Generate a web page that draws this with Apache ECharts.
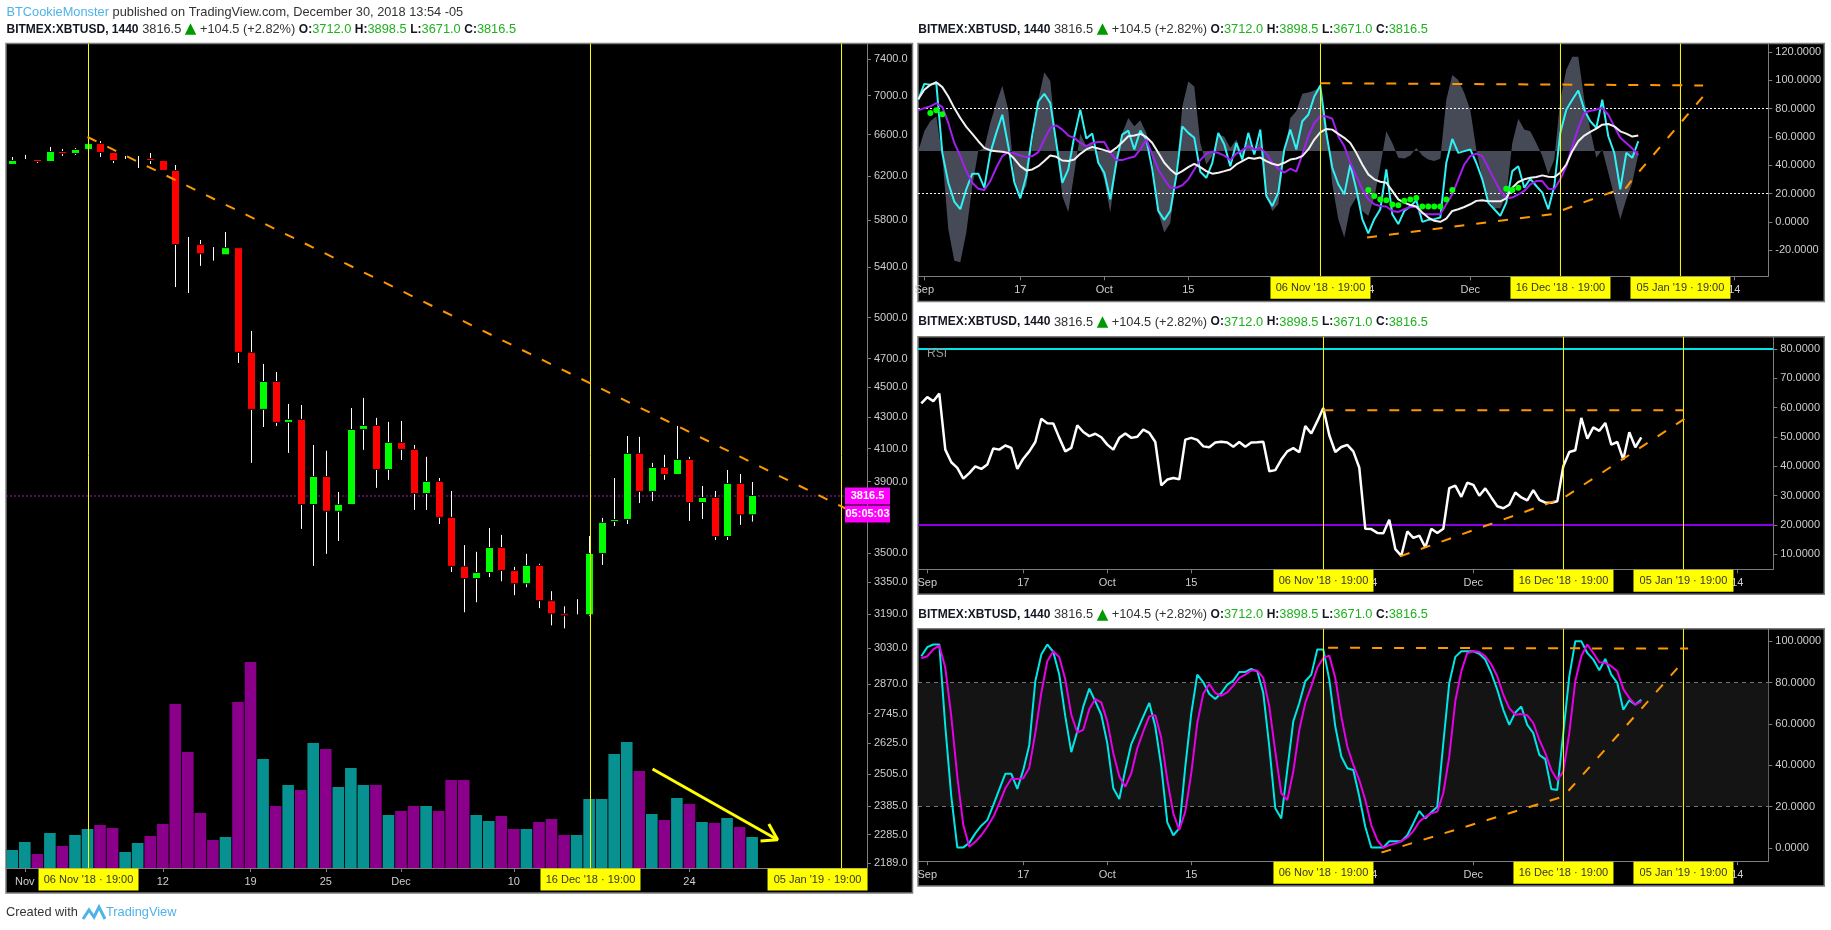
<!DOCTYPE html>
<html>
<head>
<meta charset="utf-8">
<script src="https://cdn.jsdelivr.net/npm/echarts@6/dist/echarts.min.js"></script>
<style>html,body{margin:0;padding:0;background:#fff}#c{width:1831px;height:930px}</style>
</head>
<body>
<div id="c"></div>
<script>
// ---- price panel data (index 0 = 31 Oct 2018) ----
const candleOpen = [6312,6360,6350,6340,6428,6418,6457,6505,6418,6360,6370,6360,6340,6245,5591,5582,5556,5504,5556,4741,
4355,4536,4270,4283,3770,3928,3732,3770,4225,4244,3976,4136,4093,3834,3899,3692,3428,3370,3401,3527,
3406,3344,3433,3254,3190,3190,3190,3501,3675,3686,4068,3846,3982,3946,4031,3782,3805,3592,3887,3712];
const candleClose = [6340,6360,6340,6428,6418,6447,6505,6428,6350,6360,6370,6350,6255,5591,5591,5513,5556,5556,4748,4355,
4536,4270,4283,3770,3928,3732,3765,4218,4244,3976,4136,4099,3834,3899,3698,3433,3370,3396,3527,3412,
3344,3433,3259,3195,3186,3190,3496,3664,3680,4068,3846,3982,3946,4031,3782,3805,3592,3887,3712,3816.5];
const candleLow = [6312,6360,6321,6340,6389,6399,6457,6379,6321,6360,6274,6312,6255,5238,5191,5409,5452,5504,4669,4013,
4237,4244,4074,3631,3433,3496,3565,3770,4093,3864,3911,4031,3737,3737,3658,3401,3200,3249,3375,3354,
3284,3324,3220,3137,3123,3190,3181,3438,3647,3658,3776,3787,3911,3946,3675,3686,3570,3570,3653,3671];
const candleHigh = [6379,6399,6350,6476,6457,6466,6575,6535,6418,6389,6389,6418,6340,6302,5651,5625,5565,5694,5556,4901,
4662,4606,4388,4381,4123,4087,3840,4361,4428,4296,4270,4276,4123,4050,3922,3846,3543,3507,3636,3598,
3428,3496,3444,3304,3229,3264,3592,3692,3922,4180,4174,4013,4062,4244,4050,3875,3846,3970,3946,3898.5];
const volume = [18,26,14,35,22,33,39,43,40,16,25,32,44,164,116,55,28,31,166,206,
109,62,83,78,125,119,81,100,83,83,53,57,62,62,57,88,88,53,47,52,
39,39,46,49,33,33,69,69,114,126,97,54,48,70,64,46,45,50,41,31];
const volumeRising = [1,1,0,1,0,1,1,0,0,1,1,0,0,0,0,0,0,1,0,0,
1,0,1,0,1,0,1,1,1,0,1,0,0,1,0,0,0,1,1,0,
0,1,0,0,0,1,1,1,1,1,0,1,0,1,0,1,0,1,0,1];
const priceTicks = [7400,7000,6600,6200,5800,5400,5000,4700,4500,4300,4100,3900,3500,3350,3190,3030,2870,2745,2625,2505,2385,2285,2189];
const lastPrice = 3816.5;
const priceTickDays = [1,12,19,25,31,40,54];
const priceTickLabels = ['Nov','12','19','25','Dec','10','24'];
const priceTrend = [[6,6575],[68.16,3686]];
const volumeArrow = [[51.06,99],[61.03,28.3]];
const volumeArrowHead = [[60.33,44],[61.03,28.3],[59.67,27]];

// ---- indicator panels data (index 0 = 31 Aug 2018, one value per day) ----
const oscCyan = [86.2,97.4,96.7,97.9,48.7,27.6,14.3,8.9,23,34,34,24.1,48.7,62.8,75.6,53.4,28.1,16.6,32.3,61.6,85,90.4,83.8,55.7,27.6,37,60.4,79.2,58.8,62.3,41.7,34.7,15.9,41.7,61.6,64.4,51.1,64.4,58.1,37,7.7,1.4,7.7,32.3,67.4,62.8,59.3,35.4,31.1,41.7,62.8,54.6,39.3,55.7,44,62.8,47.5,65.1,18.3,11.2,20.6,51.1,65.1,51.1,71,75.6,88.5,96.3,62.8,38.2,26.5,19.4,40.5,23,1.9,-8.2,
1.9,8.9,37,5.4,-1.6,7.7,10.8,15.2,0,1.4,1.9,3,41.7,58.5,48.7,49.9,51.1,41.7,30,13.6,8.9,4.2,13.6,35.8,39.3,24.1,30.4,25.3,20.6,8.9,25.3,62.8,79.2,86.2,92.7,79.2,71,66.3,86.2,60.4,48.7,23,48.7,45.2,56.9];
const oscPurple = [78.7,80.3,81.5,83.8,81,69.8,55.7,46.4,35.8,27.6,23.4,22.5,28.8,38.2,46.4,49.2,48.2,46.8,45.7,46.4,49.2,58.1,66.3,68.1,65.1,60.9,59.3,55.7,53.4,55.7,56.4,56.4,48.7,43.6,43.6,45,45.9,51.1,58.1,47.5,37,30,24.1,24.1,25.8,30,37,43.6,48.2,49.4,48.7,46.8,43.6,48.2,50.6,53.4,51.1,52.2,48.2,41.7,37.5,34.7,37.5,35.4,47.5,60.4,69.8,74.5,74.5,72.8,60.4,53.4,41.7,32.3,23,15.9,12.4,11.2,10.8,7.7,7,8.9,10.5,10.5,5.9,5.4,5.4,5.4,12.4,19.4,30,40.5,46.4,48.2,46.4,38.2,30,21.8,16.6,17.1,19.4,21.8,26.5,28.8,28.8,23.4,23,30,39.3,53.4,66.3,76.8,78.5,79.2,80.3,75.6,67.4,59.3,55.7,51.8,47];
const oscWhite = [86.7,93.2,96.7,98.6,95.1,88.5,80.3,73.3,67,62.1,56.9,52.2,50.4,49.9,49.4,48.7,44.5,39.3,36.3,37,39.3,42.9,46.8,45.9,43.3,42.9,44,48,51.1,52.9,51.8,50.6,49.2,52.2,56.2,60.4,60.9,62.1,60,55.7,48.7,41.7,37,33.5,35.8,38.6,41,38.6,35.8,34,34.7,35.8,37,40.5,42.9,45.2,44.5,45.4,42.9,41,40,41.7,44,44.7,46.4,51.1,58.1,63.2,65.6,65.1,62.1,59.3,55.7,48.7,40.5,33.5,30,28.3,27.6,21.8,15.9,13.6,11.9,10.8,6.6,3,0.7,0,2.3,7.7,8.9,10.5,12.4,14.8,15.2,14.5,14.5,14.5,16.6,24.1,28.1,30,31.1,31.6,32.8,31.9,31.6,34.7,40.5,49.9,56.9,60.9,63.5,65.8,68.6,69.1,67.4,63.9,62.3,60.2,60.9];
const oscBand = [50,63.9,71,74.5,46.4,-5.2,-27.4,-28.6,-7.5,25.3,50,52.2,69.8,83.8,96,79.2,30,18.3,25.3,55.7,86.2,105.6,99.5,55.7,18.3,7,34.7,62.1,53.4,55.7,41.7,30,6.6,39.3,62.8,73.3,67.4,71.7,62.8,44,6.6,-7.5,-0.9,34.7,81.5,99.1,95.6,55.7,40.5,46.4,61.6,60,52.2,58.1,46.4,58.1,48.7,58.1,18.3,7.7,12.4,46.4,73.3,78,90.4,91.3,92.7,95.1,68.6,26.5,1.9,-11,10.1,17.1,7.7,4.2,17.1,39.3,63.9,55.7,45.2,44.7,46.8,52.2,46.8,44,42.9,44.5,86.2,103.7,100.2,90.9,79.2,51.1,30,15.9,9.6,9.6,18.3,55.7,72.8,65.1,63.9,55.7,46.4,33.5,44,86.2,107.3,116.6,116.6,86.2,65.1,45.2,51.1,34.7,18.3,1.9,15.9,27.6,47.5];
const oscDotDays = [1,2,3,74,75,76,77,78,79,80,81,82,83,84,85,86,87,88,97,98,99];
const oscDotValues = [76.8,78.7,75.9,22.5,18.3,15.7,15.2,12.2,11.7,14.8,15.7,16.9,10.8,10.8,10.8,10.8,15.7,22.5,23.4,22.5,24.1];
const oscTicks = [120,100,80,60,40,20,0,-20];
const oscLevels = [80,20];
const oscTrendTop = [[66,97.9],[129.8,96.3]];
const oscTrendBottom = [[73.8,-11],[104.6,5.4],[106,7.7],[115.1,21.8],[117,24.1],[117.8,28.8],[129.8,88.5]];

const rsi = [61.5,63.6,62.2,64.8,45.7,41.4,39.5,35.8,37.7,40,39.1,40.6,46.1,45.7,47.1,46.3,39.1,42.6,45.1,48.3,56.2,54.7,54.6,49.7,45.1,46.3,54,51.7,50.3,51.1,49.9,47.4,45.7,49.7,51.2,49.7,50.1,52.5,51.4,48.3,33.5,35.5,36,35.6,49.1,49.7,49,46.8,46.5,48.1,48.4,48.1,46.7,48.3,46.7,48.1,48.2,48.4,38.3,38.7,42.3,45.1,46.2,44.8,53.7,51.2,55.4,59.9,50.6,44.9,46.6,47.3,45.1,39.5,18.7,18.6,17.3,17.2,21.8,11.8,9.5,17.8,15.6,16.4,12.4,18.7,17.3,18.7,32.6,33.4,29.6,34.4,33.7,30,32.5,29.4,26.4,25.7,26.9,31.1,29.4,28.4,31.9,28.6,27.6,27.6,28.1,40,44.9,45.5,56.5,49.4,53.3,52.1,54.8,47.4,48.3,42.3,51.6,46.5,49.9];
const rsiTicks = [80,70,60,50,40,30,20,10];
const rsiLevels = [80,20];
const rsiTrendTop = [[66,59.1],[126,59.1]];
const rsiTrendBottom = [[78.8,9.3],[106,29.2],[126.8,57]];

const stochK = [92.7,97.1,98.4,98.4,58.7,24.8,0.2,0.2,2.4,7,10.7,13.4,20.7,28.3,35.8,35.8,28.5,37.7,49.8,80.6,93.5,98.4,94.8,83.8,63.6,46.3,56.3,68.4,77,70.9,64.4,50.6,28.8,23.6,37.7,50.2,56.8,63.6,70.1,58.7,39.3,12.3,6.1,9.4,39.3,65.2,83.8,80.1,74.4,72,74.9,79,80.9,85.1,85.1,86.6,85.4,74.9,49,19.1,14.2,37.7,61.2,70.1,80.6,83.8,96,96,81.4,58.7,44.2,38.5,37.7,24.8,10.2,0.2,0.2,0.2,3.2,3.2,3.2,6.1,11.8,17.8,14.2,17.2,19.9,50.6,79.8,92.4,95.1,95.1,95.1,93.9,91.1,84.6,76.5,66.8,59.5,65.5,68.4,59.5,55.5,45,42.9,28.5,28,55.5,83,100,100,94.3,91.1,85.9,91.4,83.8,79.8,66.8,71.4,69.3,71.7];
const stochD = [91.7,92.7,96,97.9,87.1,63.6,34.5,11,0.5,2.9,6.1,10.2,15,21.5,28.8,33.3,33.3,33.7,38.8,55.5,74.9,90.3,95.1,92.2,81.4,64.4,55.8,57.1,67.2,72,70.4,61.2,45.8,34.5,29.6,36.1,48.2,56.3,63.6,64.1,53.1,32.8,16.7,8.6,17.5,36.1,60.4,74.6,79.3,74.9,73.6,75.2,78.5,82.2,83.8,85.8,85.8,82.2,68.4,46.6,26.4,23.1,36.9,57.1,70.1,78.2,87.1,91.9,93,82.2,63.6,49,40.1,32.8,23.1,11,3.7,0,1.3,2.1,3.2,5,8.1,12.6,15,16.7,17.5,26.4,44.2,70.9,85.4,94.3,95.1,94.7,92.7,88.7,83,74.1,67.6,64.4,64.7,64.1,60.4,52.3,45.8,37.7,32.8,36.9,55.5,80.6,92.7,98.4,94.3,89.8,89.5,87.9,85.4,76.9,72.5,69.3,70.9];
const stochTicks = [100,80,60,40,20,0];
const stochLevels = [80,20];
const stochTrendTop = [[66.8,96.8],[126.8,96.4]];
const stochTrendBottom = [[75.7,-2.3],[106,24.8],[126.3,91.1]];

const indicatorTickDays = [0,16,30,44,74,91,135];
const indicatorTickLabels = ['Sep','17','Oct','15','14','Dec','14'];
const markerDaysPrice = [6.08,46.11,66.13];
const markerDaysIndicator = [66.03,106.03,126.03];
const markerLabels = ["06 Nov '18 · 19:00","16 Dec '18 · 19:00","05 Jan '19 · 19:00"];

// ---- drawing ----
const FONT = '"Liberation Sans", Arial, sans-serif';
const AXIS = '#7d7d7d', LABEL = '#cdcdcd', ORANGE = '#ff9800', YELLOW = '#ffff00';
const dash = [10,12];

function days(arr){ return arr.map((v,i)=>[i-1,v]); }
function xAxis(grid,min,max,tickDays,labelDays,labels){
  return {type:'value',gridIndex:grid,min,max,splitLine:{show:false},
    axisLine:{show:true,onZero:false,lineStyle:{color:AXIS,width:1}},
    axisTick:{show:true,length:4,lineStyle:{color:AXIS},customValues:tickDays},
    axisLabel:{show:true,customValues:labelDays,margin:8,color:LABEL,fontFamily:FONT,fontSize:11,
      formatter:v=>labels[labelDays.indexOf(v)]||''}};
}
function yAxis(grid,min,max,ticks,digits,type){
  return {type:type||'value',gridIndex:grid,position:'right',min,max,splitLine:{show:false},
    axisLine:{show:true,onZero:false,lineStyle:{color:AXIS,width:1}},
    axisTick:{show:true,length:4,lineStyle:{color:AXIS},customValues:ticks},
    axisLabel:{show:true,customValues:ticks,margin:7,color:LABEL,fontFamily:FONT,fontSize:11,
      formatter:v=>Number(v).toFixed(digits)}};
}
function line(ax,data,color,width,type,z){
  return {type:'line',xAxisIndex:ax[0],yAxisIndex:ax[1],data,showSymbol:false,symbol:'none',silent:true,z:z||3,
    lineStyle:{color,width,type:type||'solid',cap:'butt'},itemStyle:{color}};
}
function markers(ax,yMin,dayList,offsets){
  return {type:'scatter',xAxisIndex:ax[0],yAxisIndex:ax[1],clip:false,silent:true,symbolSize:1,z:6,
    itemStyle:{color:'transparent',opacity:1},
    label:{show:true,position:'bottom',distance:0,formatter:'{b}',width:100,height:22,lineHeight:22,align:'center',
      backgroundColor:YELLOW,color:'#333',fontFamily:FONT,fontSize:11},
    data:dayList.map((d,i)=>({name:markerLabels[i],value:[d,yMin],label:offsets?{offset:[offsets[i],0]}:{}}))};
}
function vlines(ax,dayList,yMin,yMax){
  return dayList.map(d=>line(ax,[[d,yMin],[d,yMax]],YELLOW,1,'solid',4));
}

const P_MIN=2172,P_MAX=7576;
const GX=[[-0.5,68.16],[-1.05,140.67],[-1.55,141],[-1.55,140.17]];
const OSC=[-38.45,125.9],RS=[4.9,84.19],ST=[-6.52,106.03];

const series=[];
// volume
series.push({type:'bar',xAxisIndex:0,yAxisIndex:1,barWidth:11.6,silent:true,z:2,
  data:volume.map((v,i)=>({value:[i,v],itemStyle:{color:volumeRising[i]?'#089191':'#8b008b'}}))});
// candles
series.push({type:'custom',xAxisIndex:0,yAxisIndex:0,silent:true,z:4,clip:true,
  data:candleOpen.map((o,i)=>[i,o,candleClose[i],candleLow[i],candleHigh[i]]),
  encode:{x:0,y:[1,2,3,4]},
  renderItem(params,api){
    const i=api.value(0),o=api.value(1),c=api.value(2);
    const top=api.coord([i,Math.max(o,c)]),bot=api.coord([i,Math.min(o,c)]);
    const hi=api.coord([i,api.value(4)]),lo=api.coord([i,api.value(3)]);
    const x=Math.round(top[0])+0.5;
    const kids=[{type:'line',shape:{x1:x,y1:hi[1],x2:x,y2:lo[1]},style:{stroke:'#fff',lineWidth:1}}];
    if(o!==c) kids.push({type:'rect',shape:{x:x-4,y:top[1]-0.5,width:8,height:Math.max(bot[1]-top[1],1)+1},
      style:{fill:c>o?'#00ff00':'#ff0000',stroke:'#000',lineWidth:1}});
    return {type:'group',children:kids};
  }});
series.push(line([0,0],[[GX[0][0],lastPrice],[GX[0][1],lastPrice]],'#a31aa3',1,[2,2],3));
series.push(...vlines([0,0],markerDaysPrice,P_MIN,P_MAX));
series.push(line([0,0],priceTrend,ORANGE,2,dash,5));
series.push(line([0,1],volumeArrow,YELLOW,3,'solid',5));
series.push(line([0,1],volumeArrowHead,YELLOW,3,'solid',5));
series.push(markers([0,0],P_MIN,markerDaysPrice,[0,0,-24]));
series.push({type:'scatter',xAxisIndex:0,yAxisIndex:0,clip:false,silent:true,symbolSize:1,z:6,itemStyle:{color:'transparent',opacity:1},
  label:{show:true,position:'right',distance:0,formatter:'{b}',width:45,height:17,lineHeight:17,align:'center',
    backgroundColor:'#ff00ff',color:'#fff',fontFamily:FONT,fontWeight:'bold',fontSize:11},
  data:[{name:lastPrice.toFixed(1),value:[GX[0][1],lastPrice]},
        {name:'05:05:03',value:[GX[0][1],lastPrice],label:{offset:[0,18]}}]});
// oscillator
series.push({type:'line',xAxisIndex:1,yAxisIndex:2,data:days(oscBand),showSymbol:false,symbol:'none',silent:true,z:2,
  lineStyle:{width:0},areaStyle:{origin:50,color:'#454a56',opacity:1}});
oscLevels.forEach(v=>series.push(line([1,2],[[GX[1][0],v],[GX[1][1],v]],'#fff',1,[2,2],3)));
series.push(line([1,2],days(oscCyan),'#2ff2f5',2));
series.push(line([1,2],days(oscPurple),'#a020f0',2));
series.push(line([1,2],days(oscWhite),'#f2f2f2',2));
series.push({type:'scatter',xAxisIndex:1,yAxisIndex:2,symbolSize:6,silent:true,z:4,itemStyle:{color:'#00ff00',opacity:1},
  data:oscDotDays.map((d,i)=>[d,oscDotValues[i]])});
series.push(...vlines([1,2],markerDaysIndicator,OSC[0],OSC[1]));
series.push(line([1,2],oscTrendTop,ORANGE,2,dash,5));
series.push(line([1,2],oscTrendBottom,ORANGE,2,dash,5));
series.push(markers([1,2],OSC[0],markerDaysIndicator));
// rsi
series.push(line([2,3],[[GX[2][0],rsiLevels[0]],[GX[2][1],rsiLevels[0]]],'#00e5e5',2,'solid',3));
series.push(line([2,3],[[GX[2][0],rsiLevels[1]],[GX[2][1],rsiLevels[1]]],'#8a00e6',2,'solid',3));
series.push(line([2,3],days(rsi),'#fff',2.5));
series.push(...vlines([2,3],markerDaysIndicator,RS[0],RS[1]));
series.push(line([2,3],rsiTrendTop,ORANGE,2,dash,5));
series.push(line([2,3],rsiTrendBottom,ORANGE,2,dash,5));
series.push(markers([2,3],RS[0],markerDaysIndicator));
// stochastic
series.push({type:'line',xAxisIndex:3,yAxisIndex:4,data:[],silent:true,z:1,
  markArea:{silent:true,itemStyle:{color:'#141414'},data:[[{yAxis:stochLevels[1]},{yAxis:stochLevels[0]}]]}});
stochLevels.forEach(v=>series.push(line([3,4],[[GX[3][0],v],[GX[3][1],v]],'#777',1,[4,4],2)));
series.push(line([3,4],days(stochK),'#00e5e5',2));
series.push(line([3,4],days(stochD),'#e600e6',2));
series.push(...vlines([3,4],markerDaysIndicator,ST[0],ST[1]));
series.push(line([3,4],stochTrendTop,ORANGE,2,dash,5));
series.push(line([3,4],stochTrendBottom,ORANGE,2,dash,5));
series.push(markers([3,4],ST[0],markerDaysIndicator));

// header text
const rich={
  k:{fontFamily:FONT,fontSize:12,fontWeight:'bold',fill:'#131722'},
  n:{fontFamily:FONT,fontSize:12.8,fill:'#333'},
  v:{fontFamily:FONT,fontSize:12.8,fill:'#1fb01f'},
  t:{fontFamily:'"DejaVu Sans"',fontSize:15,fill:'#009900'},
  b:{fontFamily:FONT,fontSize:12.8,fill:'#4fb3e8'},
  r:{fontFamily:FONT,fontSize:12,fill:'#9a9a9a'}
};
const head='{k|BITMEX:XBTUSD, 1440} {n|3816.5 }{t|▲}{n| +104.5 (+2.82%) }{k|O:}{v|3712.0 }{k|H:}{v|3898.5 }{k|L:}{v|3671.0 }{k|C:}{v|3816.5}';
function txt(x,y,text){
  return {type:'text',x,y,z:20,silent:true,style:{text,rich,verticalAlign:'middle',fontFamily:FONT,fontSize:13}};
}
function frame(x,y,w,h){
  return {type:'rect',z:-10,silent:true,shape:{x,y,width:w,height:h},style:{fill:'#000',stroke:'#7d7d7d',lineWidth:1.5}};
}
const option={
  animation:false,backgroundColor:'#fff',
  grid:[
    {left:6,top:43.5,width:861,height:824.5},
    {left:918,top:43.5,width:850.3,height:232.8},
    {left:918,top:336.7,width:855.3,height:232.6},
    {left:918,top:628.7,width:850.3,height:232.6}
  ],
  xAxis:[
    xAxis(0,GX[0][0],GX[0][1],priceTickDays.concat(markerDaysPrice),priceTickDays,priceTickLabels),
    xAxis(1,GX[1][0],GX[1][1],indicatorTickDays.concat(markerDaysIndicator),indicatorTickDays,indicatorTickLabels),
    xAxis(2,GX[2][0],GX[2][1],indicatorTickDays.concat(markerDaysIndicator),indicatorTickDays,indicatorTickLabels),
    xAxis(3,GX[3][0],GX[3][1],indicatorTickDays.concat(markerDaysIndicator),indicatorTickDays,indicatorTickLabels)
  ],
  yAxis:[
    yAxis(0,P_MIN,P_MAX,priceTicks,1,'log'),
    {type:'value',gridIndex:0,min:0,max:824.5,show:false},
    yAxis(1,OSC[0],OSC[1],oscTicks,4),
    yAxis(2,RS[0],RS[1],rsiTicks,4),
    yAxis(3,ST[0],ST[1],stochTicks,4)
  ],
  graphic:{elements:[
    frame(6,43.5,906.5,849.5),
    frame(918,43.5,906.3,258),
    frame(918,336.7,906.3,257.6),
    frame(918,628.7,906.3,257.3),
    txt(6.5,12.5,'{b|BTCookieMonster} {n|published on TradingView.com, December 30, 2018 13:54 -05}'),
    txt(6.5,29.5,head),
    txt(918.3,29.5,head),
    txt(918.3,322,head),
    txt(918.3,614.7,head),
    txt(927,354,'{r|RSI}'),
    txt(6,912.7,'{n|Created with}'),
    {type:'polyline',z:20,silent:true,shape:{points:[[83,919],[89,910],[94,917],[99,907],[105,919]]},
      style:{stroke:'#4fb3e8',fill:'none',lineWidth:3}},
    txt(106,912.7,'{b|TradingView}')
  ]},
  series
};
const chart=echarts.init(document.getElementById('c'),null,{renderer:'canvas',width:1831,height:930});
chart.setOption(option);
</script>
</body>
</html>
